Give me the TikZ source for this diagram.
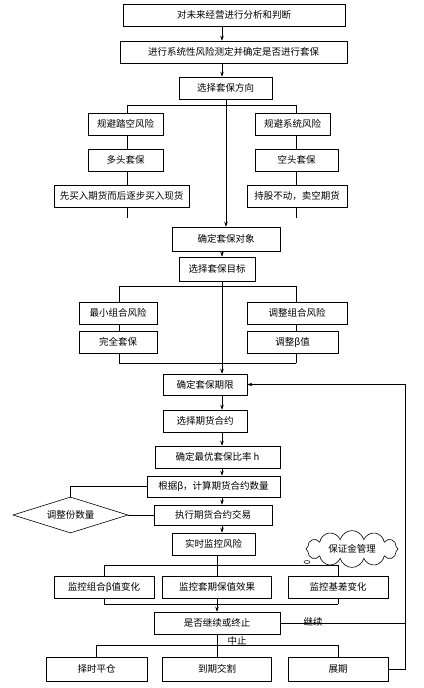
\documentclass[tikz,border=0pt]{standalone}
\usepackage{fontspec}
\setmainfont{Noto Sans CJK SC}
\usetikzlibrary{arrows.meta,shapes.geometric,shapes.symbols,calc}
\begin{document}
\begin{tikzpicture}[x=1pt,y=-1pt,
  box/.style={draw,line width=0.6pt,inner sep=0pt,minimum height=22pt,font=\fontsize{9.5}{11}\selectfont},
  ln/.style={line width=0.6pt},
  arr/.style={line width=0.6pt,-{Stealth[length=5pt,width=3.5pt]}},
  lbl/.style={font=\fontsize{9.5}{11}\selectfont,inner sep=1pt}]
\useasboundingbox (0,0) rectangle (423,688);
% columns and rows
\coordinate (cA) at (222,0);
\coordinate (cB) at (217,0);
\coordinate (c3) at (226,0);
\coordinate (cL) at (127,0);
\coordinate (cR) at (296,0);
\coordinate (cM) at (119,0);
\coordinate (cRR) at (405,0);
\coordinate (br1) at (0,105);
\coordinate (st) at (0,218);
\coordinate (br2) at (0,286);
\coordinate (mg) at (0,363);
\coordinate (h1) at (0,565);
\coordinate (jn) at (0,604);
\coordinate (k) at (0,645);
% nodes
\node[box,minimum width=222] (n1) at (234,15) {对未来经营进行分析和判断};
\node[box,minimum width=227] (n2) at (233.5,52) {进行系统性风险测定并确定是否进行套保};
\node[box,minimum width=93] (n3) at (225.5,88) {选择套保方向};
\node[box,minimum width=75] (L1) at (125.5,124) {规避踏空风险};
\node[box,minimum width=75] (L2) at (125.5,160) {多头套保};
\node[box,minimum width=135] (L3) at (121.5,196) {先买入期货而后逐步买入现货};
\node[box,minimum width=75] (R1) at (292.5,124) {规避系统风险};
\node[box,minimum width=83] (R2) at (296.5,160) {空头套保};
\node[box,minimum width=100] (R3) at (297,196) {持股不动，卖空期货};
\node[box,minimum width=108,minimum height=24] (n4) at (226,239) {确定套保对象};
\node[box,minimum width=76,minimum height=24] (n5) at (217,269) {选择套保目标};
\node[box,minimum width=78] (M1) at (118,313) {最小组合风险};
\node[box,minimum width=78] (M2) at (118,342) {完全套保};
\node[box,minimum width=100] (M3) at (297,313) {调整组合风险};
\node[box,minimum width=91] (M4) at (292.5,342) {调整β值};
\node[box,minimum width=84,minimum height=21] (n6) at (205,384.5) {确定套保期限};
\node[box,minimum width=84] (n7) at (205,421) {选择期货合约};
\node[box,minimum width=125] (n8) at (217.5,457) {确定最优套保比率 h};
\node[box,minimum width=133,minimum height=21] (n9) at (213.5,486.5) {根据β，计算期货合约数量};
\node[box,minimum width=118,minimum height=20] (n10) at (213,515) {执行期货合约交易};
\node[draw,line width=0.6pt,diamond,aspect=3.2,minimum width=115,minimum height=36,inner sep=0pt,font=\fontsize{9.5}{11}\selectfont] (d) at (70.5,515) {调整份数量};
\node[box,minimum width=83] (n11) at (213.5,544) {实时监控风险};
\node[draw,line width=0.6pt,cloud,cloud puffs=12,aspect=3.8,inner xsep=5pt,inner ysep=1pt,minimum width=92,minimum height=26,font=\fontsize{9.5}{11}\selectfont] (cl) at (352,549) {保证金管理};
\node[draw,line width=0.5pt,ellipse,minimum width=6,minimum height=3,inner sep=0pt] (tail) at (307,562) {};
\node[box,minimum width=100] (B1) at (104,587) {监控组合β值变化};
\node[box,minimum width=109] (B2) at (217,587) {监控套期保值效果};
\node[box,minimum width=100] (B3) at (338,587) {监控基差变化};
\node[box,minimum width=126] (n12) at (217,623) {是否继续或终止};
\node[box,minimum width=101,minimum height=24] (E1) at (96.5,669) {择时平仓};
\node[box,minimum width=109,minimum height=24] (E2) at (217,669) {到期交割};
\node[box,minimum width=100,minimum height=24] (E3) at (338,669) {展期};
\node[lbl] (lc) at (313,622) {继续};
\node[lbl] (lz) at (237,641) {中止};
% connectors
\draw[arr] (n1.south -| cA) -- (n2.north -| cA);
\draw[arr] (n2.south -| cA) -- (n3.north -| cA);
\draw[arr] (n3.south -| c3) -- (n4.north -| c3);
\draw[ln] (br1 -| cL) -- (br1 -| cR);
\draw[ln] (br1 -| cL) -- (L1.north -| cL);
\draw[ln] (L1.south -| cL) -- (L2.north -| cL);
\draw[ln] (L2.south -| cL) -- (L3.north -| cL);
\draw[ln] (L3.south -| cL) -- (st -| cL);
\draw[ln] (br1 -| cR) -- (R1.north -| cR);
\draw[ln] (R1.south -| cR) -- (R2.north -| cR);
\draw[ln] (R2.south -| cR) -- (R3.north -| cR);
\draw[ln] (R3.south -| cR) -- (st -| cR);
\draw[arr] (n4.south -| cA) -- (n5.north -| cA);
\draw[arr] (n5.south -| cA) -- (n6.north -| cA);
\draw[ln] (br2 -| cM) -- (br2 -| cR);
\draw[ln] (br2 -| cM) -- (M1.north -| cM);
\draw[ln] (M1.south -| cM) -- (M2.north -| cM);
\draw[ln] (M2.south -| cM) -- (mg -| cM);
\draw[ln] (br2 -| cR) -- (M3.north -| cR);
\draw[ln] (M3.south -| cR) -- (M4.north -| cR);
\draw[ln] (M4.south -| cR) -- (mg -| cR);
\draw[ln] (mg -| cM) -- (mg -| cR);
\draw[arr] (n6.south -| cA) -- (n7.north -| cA);
\draw[arr] (n7.south -| cA) -- (n8.north -| cA);
\draw[arr] (n8.south -| cA) -- (n9.north -| cA);
\draw[arr] (n9.south -| cA) -- (n10.north -| cA);
\draw[arr] (n10.south -| cA) -- (n11.north -| cA);
\draw[ln] (n9.west) -| (d.north);
\draw[ln] (d.east) -- (n10.west);
\draw[ln] (n11.south -| cB) -- (h1 -| cB);
\draw[ln] (h1 -| B1) -- (h1 -| B3);
\draw[ln] (h1 -| B1) -- (B1.north);
\draw[ln] (h1 -| B2) -- (B2.north);
\draw[ln] (h1 -| B3) -- (B3.north);
\draw[ln] (B1.south) -- (jn -| B1);
\draw[ln] (B3.south) -- (jn -| B3);
\draw[ln] (jn -| B1) -- (jn -| B3);
\draw[ln] (B2.south) -- (jn -| B2);
\draw[arr] (jn -| n12) -- (n12.north);
\draw[ln] (n12.east) -- (n12.east -| cRR);
\draw[arr] (E3.east) -- (E3.east -| cRR) -- (n6.east -| cRR) -- (n6.east);
\draw[ln] (n12.south) -- (k -| n12);
\draw[ln] (k -| E1) -- (k -| E3);
\draw[ln] (k -| E1) -- (E1.north);
\draw[ln] (k -| E2) -- (E2.north);
\draw[ln] (k -| E3) -- (E3.north);
\end{tikzpicture}
\end{document}
